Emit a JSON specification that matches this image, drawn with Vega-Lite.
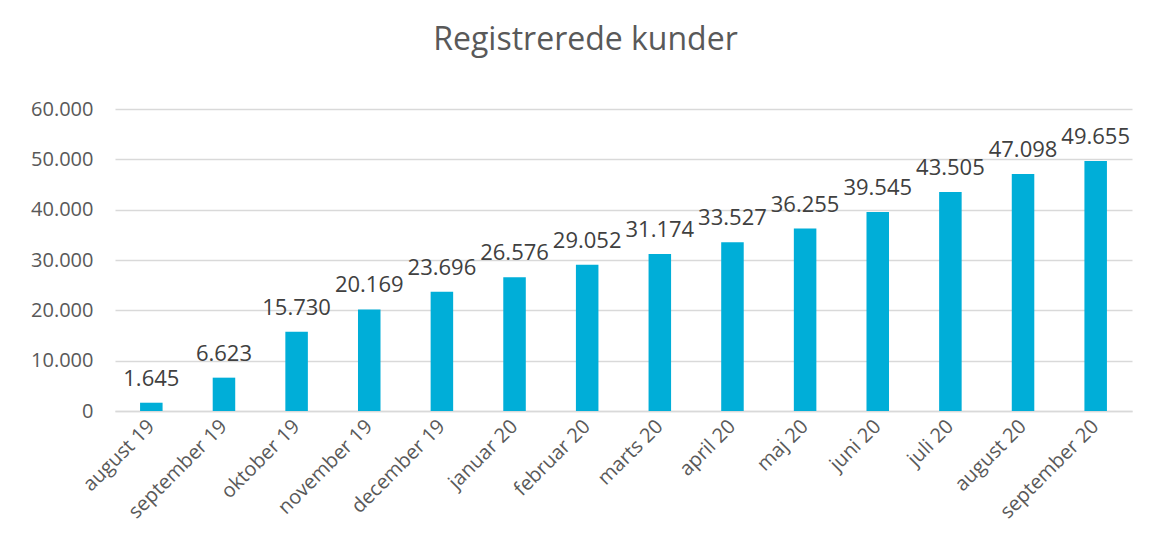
{
  "$schema": "https://vega.github.io/schema/vega-lite/v6.json",
  "width": 1017,
  "height": 302,
  "autosize": {"type": "none"},
  "padding": {"left": 115, "top": 109, "right": 28, "bottom": 143},
  "background": "white",
  "title": {
    "text": "Registrerede kunder",
    "font": "Open Sans",
    "fontSize": 32,
    "fontWeight": "normal",
    "color": "#595959",
    "anchor": "middle",
    "dx": -38,
    "offset": 42
  },
  "data": {
    "values": [
      {"month": "august 19", "kunder": 1645},
      {"month": "september 19", "kunder": 6623},
      {"month": "oktober 19", "kunder": 15730},
      {"month": "november 19", "kunder": 20169},
      {"month": "december 19", "kunder": 23696},
      {"month": "januar 20", "kunder": 26576},
      {"month": "februar 20", "kunder": 29052},
      {"month": "marts 20", "kunder": 31174},
      {"month": "april 20", "kunder": 33527},
      {"month": "maj 20", "kunder": 36255},
      {"month": "juni 20", "kunder": 39545},
      {"month": "juli 20", "kunder": 43505},
      {"month": "august 20", "kunder": 47098},
      {"month": "september 20", "kunder": 49655}
    ]
  },
  "encoding": {
    "x": {
      "field": "month",
      "type": "nominal",
      "sort": null,
      "title": null,
      "scale": {"paddingInner": 0.69, "paddingOuter": 0.345},
      "axis": {
        "labelAngle": -45,
        "labelAlign": "right",
        "labelBaseline": "middle",
        "labelFont": "Open Sans",
        "labelFontSize": 20,
        "labelColor": "#595959",
        "labelPadding": 12,
        "ticks": false,
        "domainColor": "#d9d9d9",
        "domainWidth": 1.5
      }
    },
    "y": {
      "field": "kunder",
      "type": "quantitative",
      "title": null,
      "scale": {"domain": [0, 60000]},
      "axis": {
        "values": [0, 10000, 20000, 30000, 40000, 50000, 60000],
        "labelExpr": "format(datum.value, ',')",
        "labelFont": "Open Sans",
        "labelFontSize": 20,
        "labelColor": "#595959",
        "labelPadding": 22,
        "ticks": false,
        "domain": false,
        "gridColor": "#d9d9d9",
        "gridWidth": 1.5
      }
    }
  },
  "layer": [
    {"mark": {"type": "bar", "color": "#00AED8"}},
    {
      "mark": {"type": "text", "baseline": "alphabetic", "dy": -17, "font": "Open Sans", "fontSize": 22, "color": "#404040"},
      "encoding": {"text": {"field": "kunder", "type": "quantitative", "format": ","}}
    }
  ],
  "config": {
    "view": {"stroke": null},
    "locale": {"number": {"decimal": ",", "thousands": ".", "grouping": [3], "currency": ["", " kr."]}}
  }
}
